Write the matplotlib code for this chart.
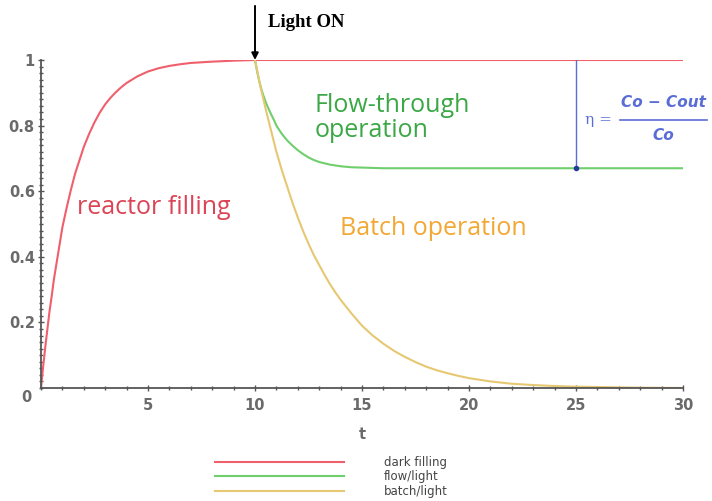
import matplotlib
matplotlib.use("Agg")
import matplotlib.pyplot as plt
from matplotlib.ticker import MultipleLocator

# Reactor concentration profiles (normalised C/Co versus time t)
t_fill = [0, 0.1, 0.2, 0.3, 0.4, 0.5, 0.6, 0.7, 0.8, 0.9, 1.0, 1.2, 1.4, 1.6,
          1.8, 2.0, 2.25, 2.5, 2.75, 3.0, 3.25, 3.5, 3.75, 4.0, 4.5, 5.0, 5.5,
          6.0, 6.5, 7.0, 7.5, 8.0, 9.0, 10.0, 30.0]
c_fill = [0, 0.065, 0.125, 0.18, 0.235, 0.28, 0.33, 0.37, 0.41, 0.45, 0.49,
          0.55, 0.605, 0.655, 0.695, 0.735, 0.775, 0.81, 0.84, 0.865, 0.885,
          0.902, 0.917, 0.93, 0.95, 0.965, 0.975, 0.982, 0.987, 0.991, 0.993,
          0.995, 0.998, 1.0, 1.0]

t_flow = [10.0, 10.1, 10.2, 10.3, 10.4, 10.5, 10.6, 10.75, 10.9, 11.0, 11.25,
          11.5, 11.75, 12.0, 12.25, 12.5, 12.75, 13.0, 13.5, 14.0, 14.5, 15.0,
          16.0, 30.0]
c_flow = [1.0, 0.965, 0.935, 0.91, 0.89, 0.872, 0.856, 0.835, 0.815, 0.80,
          0.775, 0.755, 0.739, 0.725, 0.713, 0.703, 0.695, 0.689, 0.681,
          0.676, 0.673, 0.672, 0.670, 0.670]

t_batch = [10.0, 10.25, 10.5, 10.75, 11.0, 11.25, 11.5, 11.75, 12.0, 12.25,
           12.5, 12.75, 13.0, 13.25, 13.5, 13.75, 14.0, 14.5, 15.0, 15.5,
           16.0, 16.5, 17.0, 17.5, 18.0, 18.5, 19.0, 19.5, 20.0, 21.0, 22.0,
           23.0, 24.0, 25.0, 26.0, 27.0, 28.0, 30.0]
c_batch = [1.0, 0.92, 0.85, 0.785, 0.72, 0.665, 0.615, 0.565, 0.52, 0.478,
           0.44, 0.405, 0.375, 0.345, 0.317, 0.292, 0.269, 0.228, 0.19, 0.16,
           0.135, 0.113, 0.095, 0.079, 0.065, 0.054, 0.045, 0.037, 0.03,
           0.02, 0.013, 0.009, 0.006, 0.004, 0.003, 0.002, 0.001, 0.0]

series_labels = ["dark filling", "flow/light", "batch/light"]
x_ticks = [5, 10, 15, 20, 25, 30]
y_ticks = [0.2, 0.4, 0.6, 0.8, 1.0]
y_tick_labels = ["0.2", "0.4", "0.6", "0.8", "1"]

t_light_on = 10.0
t_eff = 25.0
c_out = 0.67

RED, GREEN, YELLOW, BLUE = "#ef5f6c", "#6fcf6c", "#e6c772", "#5a6cd6"

fig = plt.figure(figsize=(7.12, 5.01), dpi=100)
ax = fig.add_axes([41 / 712, 1 - 388 / 501, 642 / 712, 328 / 501])

l1, = ax.plot(t_fill, c_fill, color=RED, lw=1.5)
l2, = ax.plot(t_flow, c_flow, color=GREEN, lw=1.5)
l3, = ax.plot(t_batch, c_batch, color=YELLOW, lw=1.5)

ax.set_xlim(0, 30)
ax.set_ylim(0, 1)
for s in ("top", "right"):
    ax.spines[s].set_visible(False)
for s in ("left", "bottom"):
    ax.spines[s].set_color("#555555")
    ax.spines[s].set_linewidth(1.3)

ax.set_xticks(x_ticks)
ax.set_yticks(y_ticks)
ax.set_yticklabels(y_tick_labels)
ax.xaxis.set_minor_locator(MultipleLocator(1))
ax.yaxis.set_minor_locator(MultipleLocator(0.02))
ax.tick_params(which="major", direction="inout", length=5, width=1.0,
               color="#555555", labelsize=10.5, labelcolor="#6a6a6a")
ax.tick_params(which="minor", direction="inout", length=3, width=1.0,
               color="#555555")
ax.tick_params(axis="y", which="major", pad=2)
ax.tick_params(axis="x", which="major", pad=5)
for lab in ax.get_xticklabels() + ax.get_yticklabels():
    lab.set_fontweight("bold")
ax.text(-0.45, -0.028, "0", transform=ax.transData, ha="right", va="center",
        fontsize=10.5, color="#6a6a6a", fontweight="bold", clip_on=False)
ax.set_xlabel("t", fontsize=10.5, color="#6a6a6a", fontweight="bold",
              labelpad=10)

# Annotations
ax.text(1.68, 0.549, "reactor filling", color="#dc4455", fontsize=18,
        family="Open Sans", ha="left", va="center")
ax.text(12.8, 0.823, "Flow-through\noperation", color="#3aa845",
        fontsize=18, family="Open Sans", ha="left", va="center",
        linespacing=1.0)
ax.text(13.97, 0.485, "Batch operation", color="#f2a835", fontsize=18,
        family="Open Sans", ha="left", va="center")

# Light switched on
ax.annotate("", xy=(t_light_on, 1.0), xytext=(t_light_on, 1.165),
            arrowprops=dict(arrowstyle="-|>", color="black", lw=1.4,
                            mutation_scale=10, shrinkA=0, shrinkB=0),
            annotation_clip=False)
ax.text(t_light_on + 0.6, 1.115, "Light ON", fontsize=13.5,
        family="Liberation Serif", fontweight="bold", ha="left",
        va="center", clip_on=False)

# Removal efficiency marker
ax.plot([t_eff, t_eff], [c_out, 1.0], color=BLUE, lw=1.0)
ax.plot([t_eff], [c_out], "o", color="#2a3a9a", ms=3)
ax.text(25.4, 0.816, "η =", color=BLUE, fontsize=11, family="DejaVu Serif",
        ha="left", va="center", clip_on=False)
ax.text(29.1, 0.87, "Co − Cout", color=BLUE, fontsize=11,
        family="DejaVu Sans", style="italic", fontweight="bold",
        ha="center", va="center", clip_on=False)
ax.plot([27.06, 31.12], [0.816, 0.816], color=BLUE, lw=1.2, clip_on=False)
ax.text(29.1, 0.77, "Co", color=BLUE, fontsize=11, family="DejaVu Sans",
        style="italic", fontweight="bold", ha="center", va="center",
        clip_on=False)

leg = ax.legend([l1, l2, l3], series_labels, loc="upper left",
                bbox_to_anchor=(215 / 712, 1 - 456 / 501),
                bbox_transform=fig.transFigure, frameon=False,
                fontsize=8.5, handlelength=10.9, handletextpad=3.4,
                labelspacing=0.12, borderpad=0, borderaxespad=0)
for txt in leg.get_texts():
    txt.set_color("#444444")

fig.savefig("out.png", dpi=100)
